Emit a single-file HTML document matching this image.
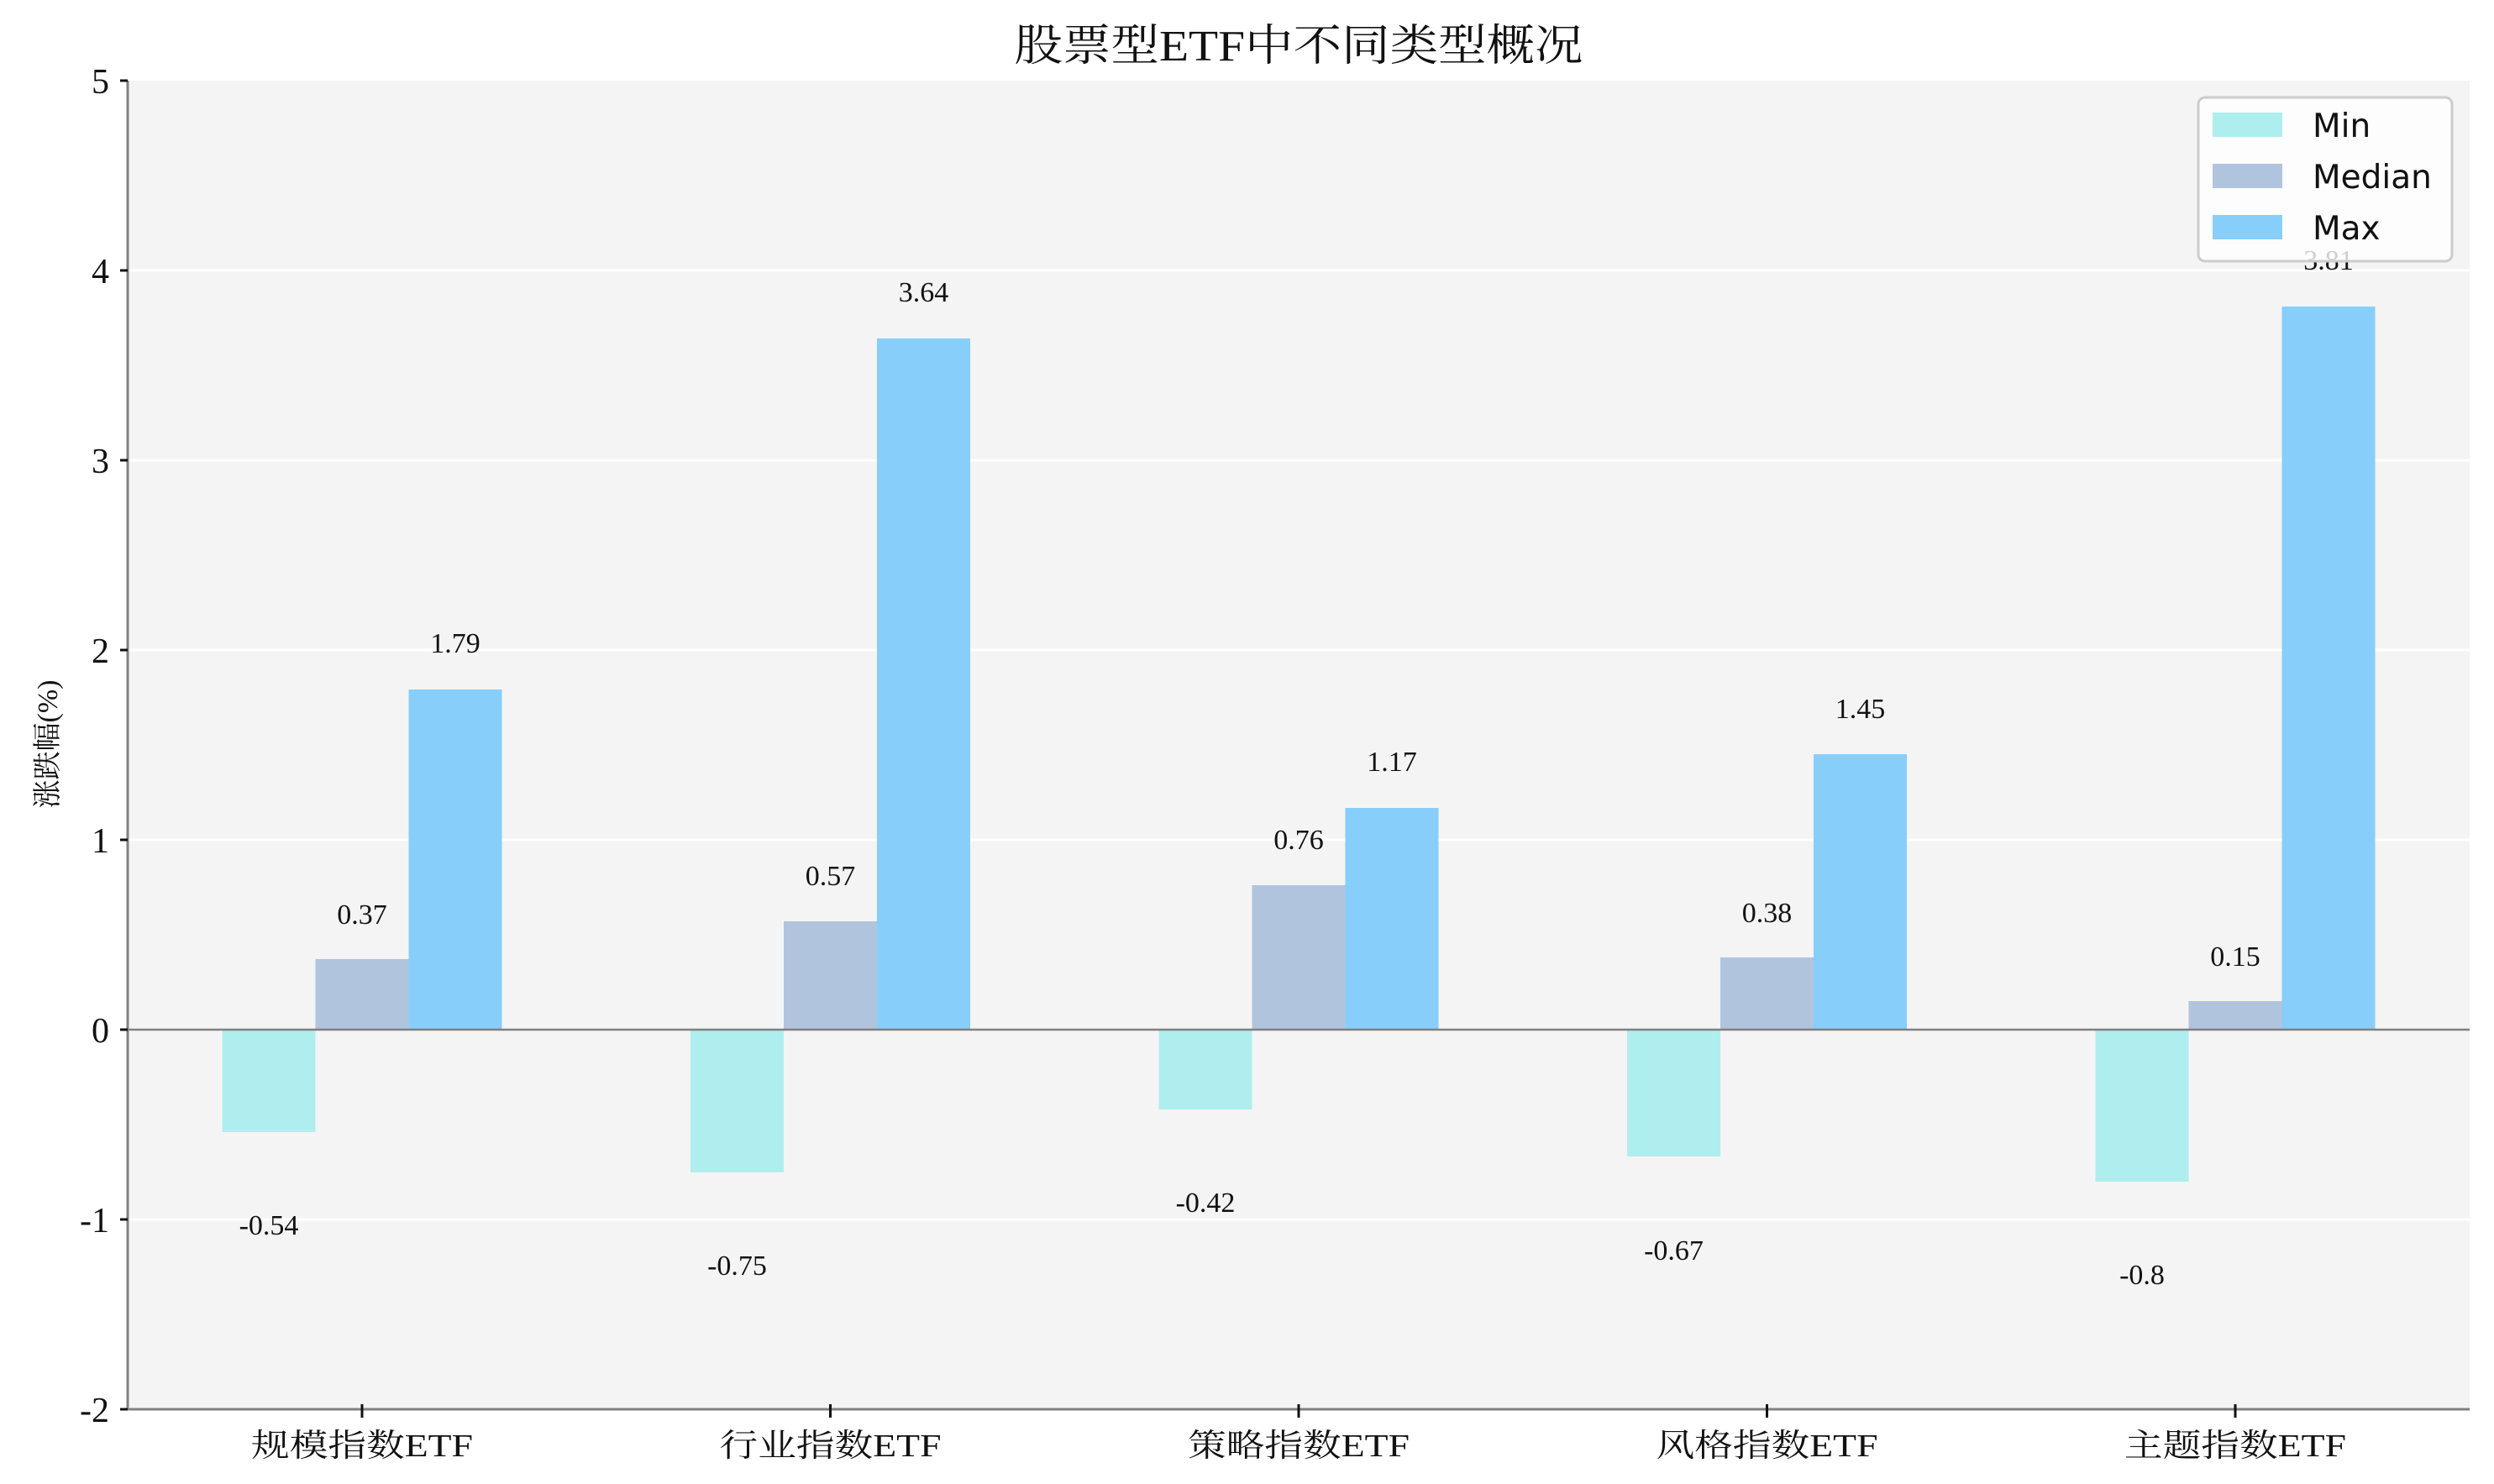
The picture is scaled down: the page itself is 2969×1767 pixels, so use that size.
<!DOCTYPE html>
<html><head><meta charset="utf-8"><style>html,body{margin:0;padding:0;background:#fff}svg{display:block}</style></head>
<body>
<svg width="2969" height="1767" viewBox="0 0 2969 1767" xmlns="http://www.w3.org/2000/svg">
<rect x="0" y="0" width="2969" height="1767" fill="#fff"/>
<rect x="152" y="96" width="2788" height="1582" fill="#f4f4f4"/>
<g stroke="#ffffff" stroke-width="3">
<line x1="152" x2="2940" y1="322" y2="322"/>
<line x1="152" x2="2940" y1="548" y2="548"/>
<line x1="152" x2="2940" y1="774" y2="774"/>
<line x1="152" x2="2940" y1="1000" y2="1000"/>
<line x1="152" x2="2940" y1="1452" y2="1452"/>
</g>
<g font-family="Liberation Serif, serif" font-size="34" fill="#111" text-anchor="middle">
<rect x="264.5" y="1226" width="111" height="122" fill="#afeeee"/>
<rect x="375.5" y="1142" width="111" height="84" fill="#b0c4de"/>
<rect x="486.5" y="821" width="111" height="405" fill="#87cefa"/>
<text x="320" y="1470">-0.54</text><text x="431" y="1100">0.37</text><text x="542" y="777">1.79</text>
<rect x="822" y="1226" width="111" height="170" fill="#afeeee"/>
<rect x="933" y="1097" width="111" height="129" fill="#b0c4de"/>
<rect x="1044" y="403" width="111" height="823" fill="#87cefa"/>
<text x="877.5" y="1518">-0.75</text><text x="988.5" y="1054">0.57</text><text x="1099.5" y="359">3.64</text>
<rect x="1379.5" y="1226" width="111" height="95" fill="#afeeee"/>
<rect x="1490.5" y="1054" width="111" height="172" fill="#b0c4de"/>
<rect x="1601.5" y="962" width="111" height="264" fill="#87cefa"/>
<text x="1435" y="1443">-0.42</text><text x="1546" y="1011">0.76</text><text x="1657" y="918">1.17</text>
<rect x="1937" y="1226" width="111" height="151" fill="#afeeee"/>
<rect x="2048" y="1140" width="111" height="86" fill="#b0c4de"/>
<rect x="2159" y="898" width="111" height="328" fill="#87cefa"/>
<text x="1992.5" y="1500">-0.67</text><text x="2103.5" y="1098">0.38</text><text x="2214.5" y="855">1.45</text>
<rect x="2494.5" y="1226" width="111" height="181" fill="#afeeee"/>
<rect x="2605.5" y="1192" width="111" height="34" fill="#b0c4de"/>
<rect x="2716.5" y="365" width="111" height="861" fill="#87cefa"/>
<text x="2550" y="1529">-0.8</text><text x="2661" y="1150">0.15</text><text x="2772" y="321">3.81</text>
</g>
<line x1="152" x2="2940" y1="1226" y2="1226" stroke="#808080" stroke-width="2.5"/>
<line x1="152" x2="152" y1="96" y2="1679" stroke="#808080" stroke-width="3"/>
<line x1="151" x2="2940" y1="1678" y2="1678" stroke="#808080" stroke-width="3"/>
<g stroke="#111" stroke-width="3">
<line x1="143" x2="152" y1="96" y2="96"/><line x1="143" x2="152" y1="322" y2="322"/>
<line x1="143" x2="152" y1="548" y2="548"/><line x1="143" x2="152" y1="774" y2="774"/>
<line x1="143" x2="152" y1="1000" y2="1000"/><line x1="143" x2="152" y1="1226" y2="1226"/>
<line x1="143" x2="152" y1="1452" y2="1452"/><line x1="143" x2="152" y1="1678" y2="1678"/>
<line x1="431" x2="431" y1="1672" y2="1688"/><line x1="988.5" x2="988.5" y1="1672" y2="1688"/>
<line x1="1546" x2="1546" y1="1672" y2="1688"/><line x1="2103.5" x2="2103.5" y1="1672" y2="1688"/>
<line x1="2661" x2="2661" y1="1672" y2="1688"/>
</g>
<g font-family="Liberation Serif, serif" font-size="42" fill="#111" text-anchor="end">
<text x="130" y="111">5</text><text x="130" y="337">4</text><text x="130" y="563">3</text>
<text x="130" y="789">2</text><text x="130" y="1015">1</text><text x="130" y="1241">0</text>
<text x="130" y="1467">-1</text><text x="130" y="1693">-2</text>
</g>
<g font-family="Liberation Serif, 'Noto Serif CJK SC', serif" font-size="38" fill="#111" text-anchor="middle">
<text x="431" y="1734" textLength="264" lengthAdjust="spacingAndGlyphs">规模指数ETF</text>
<text x="988.5" y="1734" textLength="264" lengthAdjust="spacingAndGlyphs">行业指数ETF</text>
<text x="1546" y="1734" textLength="264" lengthAdjust="spacingAndGlyphs">策略指数ETF</text>
<text x="2103.5" y="1734" textLength="264" lengthAdjust="spacingAndGlyphs">风格指数ETF</text>
<text x="2661" y="1734" textLength="264" lengthAdjust="spacingAndGlyphs">主题指数ETF</text>
</g>
<text x="0" y="0" transform="translate(68,886) rotate(-90)" font-family="Liberation Serif, 'Noto Serif CJK SC', serif" font-size="34" fill="#111" text-anchor="middle">涨跌幅(%)</text>
<text x="1546" y="72" font-family="Liberation Serif, 'Noto Serif CJK SC', serif" font-size="52" fill="#111" text-anchor="middle" textLength="677" lengthAdjust="spacingAndGlyphs">股票型ETF中不同类型概况</text>
<rect x="2617" y="116" width="302" height="195" rx="8" fill="#ffffff" fill-opacity="0.8" stroke="#cccccc" stroke-width="3"/>
<rect x="2634" y="134" width="83" height="29" fill="#afeeee"/>
<rect x="2634" y="195" width="83" height="29" fill="#b0c4de"/>
<rect x="2634" y="256" width="83" height="29" fill="#87cefa"/>
<g font-family="DejaVu Sans, sans-serif" font-size="39" fill="#111">
<text x="2753" y="163">Min</text><text x="2753" y="224">Median</text><text x="2753" y="285">Max</text>
</g>
</svg>
</body></html>
